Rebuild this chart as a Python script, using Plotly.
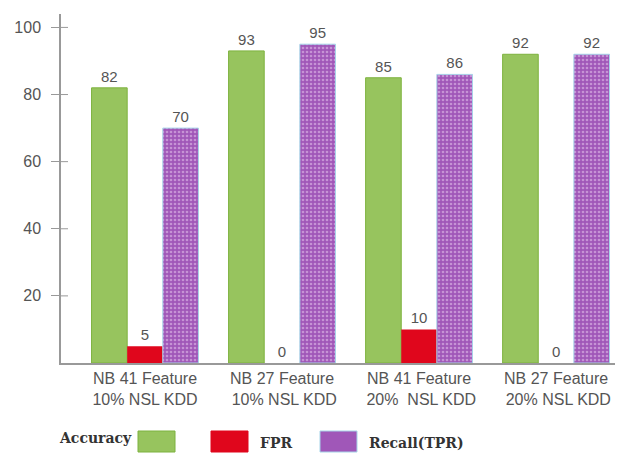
import plotly.graph_objects as go

NB = "\u00a0"
categories = ["NB 41 Feature<br>10% NSL KDD",
              "NB 27 Feature<br>" + NB + "10% NSL KDD",
              "NB 41 Feature<br>" + NB + "20%" + NB + NB + "NSL KDD",
              "NB 27 Feature<br>" + NB + "20% NSL KDD"]
accuracy = [82, 93, 85, 92]
fpr = [5, 0, 10, 0]
recall = [70, 95, 86, 92]
y_ticks = [20, 40, 60, 80, 100]

GREEN = "#97c45e"
RED = "#e0061c"
PURPLE = "#a057b8"
TXT = "#555555"
AXIS = "#999999"

fig = go.Figure()
fig.add_trace(go.Bar(x=categories, y=accuracy, name="Accuracy", text=accuracy,
                     textposition="outside", cliponaxis=False,
                     marker=dict(color=GREEN, line=dict(color="#7db23e", width=1))))
fig.add_trace(go.Bar(x=categories, y=fpr, name="FPR", text=fpr,
                     textposition="outside", cliponaxis=False,
                     marker=dict(color=RED, line=dict(color=RED, width=0))))
fig.add_trace(go.Bar(x=categories, y=recall, name="Recall(TPR)", text=recall,
                     textposition="outside", cliponaxis=False,
                     marker=dict(color=PURPLE,
                                 line=dict(color="#a6d4e8", width=1),
                                 pattern=dict(shape=".", bgcolor=PURPLE, fgcolor="#ecd0f2",
                                              size=4, solidity=0.35, fillmode="overlay"))))

fig.update_traces(textfont=dict(family="Liberation Sans, Arial", size=15, color=TXT))

L, R, T, B = 61, 9, 14, 92
W, H = 624, 455
pw = W - L - R
ph = H - T - B

fig.update_layout(
    width=W, height=H,
    margin=dict(l=L, r=R, t=T, b=B, autoexpand=False),
    paper_bgcolor="white", plot_bgcolor="white",
    barmode="group", bargap=0.22, bargroupgap=0,
    showlegend=False,
    font=dict(family="Liberation Sans, Arial", color=TXT),
    xaxis=dict(type="category", range=[-0.613, 3.43], showline=True, linecolor=AXIS,
               linewidth=1.5, ticks="", showgrid=False, automargin=False,
               tickfont=dict(size=16, color=TXT)),
    yaxis=dict(range=[0, 104], tickvals=y_ticks, showline=True, linecolor=AXIS,
               linewidth=1.5, ticks="outside", ticklen=8, tickcolor=AXIS,
               showgrid=False, zeroline=False, ticklabelstandoff=7, automargin=False,
               tickfont=dict(size=16, color=TXT)),
)

# inner half of the cross-shaped tick marks
for t in y_ticks:
    fig.add_shape(type="line", xref="paper", yref="y", x0=0, x1=7 / pw, y0=t, y1=t,
                  line=dict(color=AXIS, width=1), layer="below")

def px_x(p):
    return (p - L) / pw

def px_y(p):
    return (H - B - p) / ph

legend_items = [
    ("Accuracy", GREEN, "#7db23e", 138, 175, "left"),
    ("FPR", RED, RED, 211, 248, "right"),
    ("Recall(TPR)", PURPLE, "#a6d4e8", 320, 357, "right"),
]
for name, fill, edge, x0, x1, side in legend_items:
    fig.add_shape(type="rect", xref="paper", yref="paper",
                  x0=px_x(x0), x1=px_x(x1), y0=px_y(452), y1=px_y(431),
                  fillcolor=fill, line=dict(color=edge, width=1))
    if side == "left":
        fig.add_annotation(xref="paper", yref="paper", x=px_x(x0 - 4), y=px_y(438),
                           xanchor="right", yanchor="middle", showarrow=False,
                           text="<b>" + name + "</b>",
                           font=dict(family="DejaVu Serif", size=14, color="#333333"))
    else:
        fig.add_annotation(xref="paper", yref="paper", x=px_x(x1 + 10), y=px_y(443),
                           xanchor="left", yanchor="middle", showarrow=False,
                           text="<b>" + name + "</b>",
                           font=dict(family="DejaVu Serif", size=14, color="#333333"))

fig.write_html("out.html", config={"displayModeBar": False},
               post_script="document.body.style.margin='0';document.body.style.overflow='hidden';")
